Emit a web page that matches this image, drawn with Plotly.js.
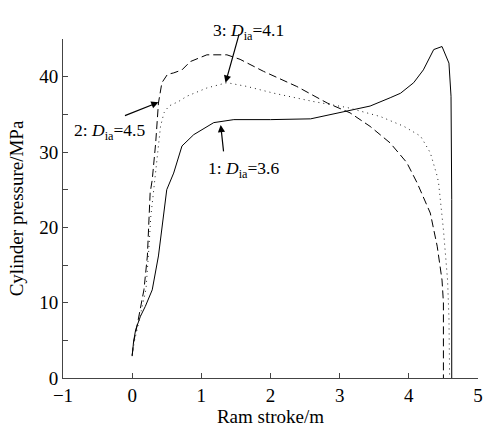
<!DOCTYPE html>
<html>
<head>
<meta charset="utf-8">
<script src="https://cdn.plot.ly/plotly-3.0.1.min.js"></script>
<style>html,body{margin:0;padding:0;background:#fff;}#chart{width:486px;height:429px;}</style>
</head>
<body>
<div id="chart"></div>
<script>
// Curve 1: D_ia = 3.6 (solid)
var stroke1 = [0, 0.02, 0.05, 0.12, 0.19, 0.29, 0.38, 0.44, 0.5, 0.6, 0.72, 0.89, 1.18, 1.47, 2.0, 2.58, 3.01, 3.44, 3.73, 3.88, 4.07, 4.21, 4.36, 4.48, 4.58, 4.61, 4.62, 4.62];
var press1  = [2.9, 4.8, 6.4, 8.2, 9.5, 11.7, 16.2, 20.5, 25.0, 27.2, 30.8, 32.3, 33.9, 34.3, 34.3, 34.4, 35.2, 36.1, 37.2, 37.8, 39.2, 40.9, 43.6, 44.0, 41.8, 37.4, 23.7, 0];
// Curve 2: D_ia = 4.5 (dashed)
var stroke2 = [0, 0.02, 0.07, 0.14, 0.17, 0.22, 0.24, 0.26, 0.29, 0.34, 0.38, 0.43, 0.51, 0.6, 0.72, 0.84, 1.08, 1.37, 1.56, 1.9, 2.38, 2.82, 3.15, 3.44, 3.73, 3.97, 4.12, 4.31, 4.41, 4.48, 4.5, 4.5];
var press2  = [3.0, 4.7, 6.9, 10.4, 11.7, 16.2, 21.5, 24.6, 26.3, 31.2, 36.5, 39.2, 40.3, 40.5, 40.9, 42.0, 42.9, 42.9, 42.3, 40.7, 38.7, 36.5, 35.2, 33.4, 31.2, 28.6, 25.9, 21.9, 17.5, 13.0, 10.0, 0];
// Curve 3: D_ia = 4.1 (dotted)
var stroke3 = [0, 0.03, 0.09, 0.16, 0.2, 0.24, 0.27, 0.3, 0.34, 0.38, 0.41, 0.46, 0.53, 0.67, 0.79, 1.08, 1.37, 1.66, 2.05, 2.62, 3.11, 3.59, 3.93, 4.17, 4.31, 4.41, 4.43, 4.5, 4.56, 4.58, 4.59];
var press3  = [3.0, 4.8, 7.2, 10.4, 11.8, 17.0, 21.5, 24.0, 27.5, 31.0, 33.4, 35.2, 36.1, 36.7, 37.4, 38.5, 39.2, 38.7, 37.8, 36.7, 35.9, 34.7, 33.4, 32.1, 29.9, 26.8, 25.9, 19.7, 13.0, 8.0, 0];

var labels = ['1: <i>D</i><sub>ia</sub>=3.6', '2: <i>D</i><sub>ia</sub>=4.5', '3: <i>D</i><sub>ia</sub>=4.1'];

var family = '"Liberation Serif", "Times New Roman", serif';
var font = {family: family, size: 19, color: '#000'};
var annFont = {family: family, size: 17.5, color: '#000'};

var traces = [
  {x: stroke1, y: press1, mode: 'lines', line: {color: '#000', width: 1, dash: 'solid'}, hoverinfo: 'skip'},
  {x: stroke2, y: press2, mode: 'lines', line: {color: '#000', width: 1, dash: '8px,4px'}, hoverinfo: 'skip'},
  {x: stroke3, y: press3, mode: 'lines', line: {color: '#222', width: 1, dash: '1px,4px'}, hoverinfo: 'skip'}
];

var arrowStyle = {showarrow: true, arrowhead: 2, arrowsize: 1.2, arrowwidth: 1.2, arrowcolor: '#000', text: '', xref: 'x', yref: 'y', axref: 'pixel', ayref: 'pixel'};

var annotations = [
  Object.assign({x: 1.28, y: 33.6, ax: 3, ay: 28}, arrowStyle),
  Object.assign({x: 0.38, y: 36.6, ax: -35, ay: 14}, arrowStyle),
  Object.assign({x: 1.35, y: 39.2, ax: 14, ay: -50}, arrowStyle),
  {x: 1.61, y: 27.7, xref: 'x', yref: 'y', text: labels[0], showarrow: false, font: annFont},
  {x: -0.33, y: 32.7, xref: 'x', yref: 'y', text: labels[1], showarrow: false, font: annFont},
  {x: 0.448, y: 1.062, xref: 'paper', yref: 'paper', text: labels[2], showarrow: false, font: annFont}
];

var layout = {
  width: 486, height: 429,
  margin: {l: 63, r: 8, t: 39, b: 51},
  paper_bgcolor: '#fff', plot_bgcolor: '#fff',
  showlegend: false,
  font: font,
  xaxis: {
    range: [-1, 5], tick0: 0, dtick: 1,
    ticks: 'inside', ticklen: 5, tickcolor: '#444', tickwidth: 1,
    showline: true, linecolor: '#444', linewidth: 1, mirror: false,
    showgrid: false, zeroline: false,
    tickfont: font,
    title: {text: 'Ram stroke/m', font: font, standoff: 2}
  },
  yaxis: {
    range: [0, 45], tick0: 0, dtick: 10,
    ticks: 'inside', ticklen: 5, tickcolor: '#444', tickwidth: 1,
    minor: {dtick: 5, ticks: 'inside', ticklen: 5, tickcolor: '#444', showgrid: false},
    showline: true, linecolor: '#444', linewidth: 1, mirror: false,
    showgrid: false, zeroline: false,
    tickfont: font,
    title: {text: 'Cylinder pressure/MPa', font: font, standoff: 10}
  },
  annotations: annotations
};

Plotly.newPlot('chart', traces, layout, {displayModeBar: false, staticPlot: true});
</script>
</body>
</html>
